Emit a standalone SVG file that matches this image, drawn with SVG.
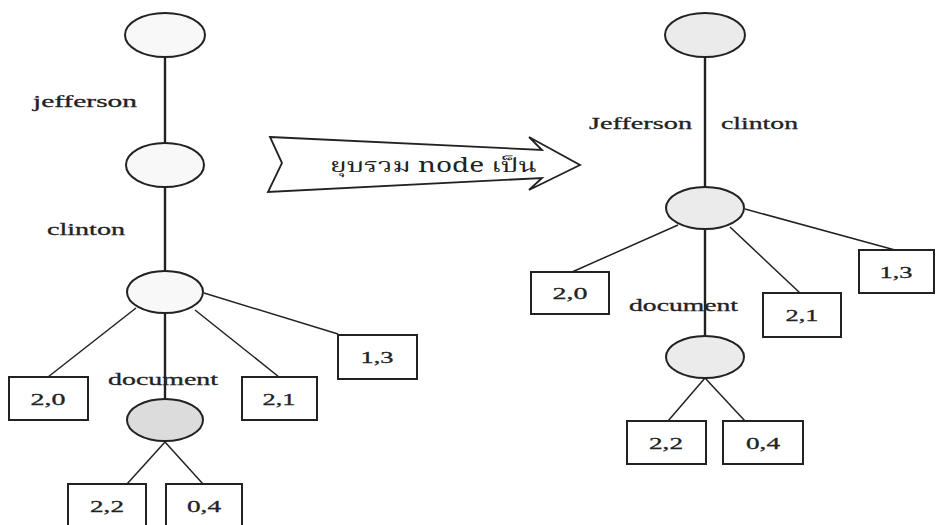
<svg xmlns="http://www.w3.org/2000/svg" width="936" height="525" viewBox="0 0 936 525">
  <style>
    .bg { fill: #ffffff; }
    .edge { stroke: #222; stroke-width: 1.5; fill: none; }
    .trunk { stroke: #222; stroke-width: 2.4; fill: none; }
    .node { stroke: #222; stroke-width: 2; }
    .plain { fill: #f8f8f8; }
    .light { fill: #ebebeb; }
    .shade { fill: #dcdcdc; }
    .leaf { fill: #ffffff; stroke: #222; stroke-width: 2; }
    .lbl { font-family: "Liberation Serif", "DejaVu Serif", serif; font-size: 17px; font-weight: normal; fill: #222; stroke: #222; stroke-width: 0.3; }
    .num { font-family: "Liberation Serif", "DejaVu Serif", serif; font-size: 17px; font-weight: normal; fill: #222; stroke: #222; stroke-width: 0.3; text-anchor: middle; }
    .arrow { fill: #ffffff; stroke: #222; stroke-width: 1.8; stroke-linejoin: miter; }
    .thai { font-family: "Noto Serif Thai", "Noto Sans Thai", "Loma", "Garuda", "Tlwg Typo", "DejaVu Sans", sans-serif; font-size: 19px; fill: #222; }
  </style>
  <rect class="bg" x="0" y="0" width="936" height="525"/>

  <!-- tree connectors -->
  <g id="connectors">
    <!-- left tree -->
    <line class="trunk" x1="165" y1="57" x2="165" y2="143"/>
    <line class="trunk" x1="165" y1="187" x2="165" y2="271"/>
    <line class="trunk" x1="165" y1="313" x2="165" y2="399"/>
    <line class="edge" x1="136" y1="308" x2="48" y2="377"/>
    <line class="edge" x1="195" y1="310" x2="279" y2="377"/>
    <line class="edge" x1="204" y1="293" x2="338" y2="334"/>
    <line class="edge" x1="165" y1="442" x2="127" y2="484"/>
    <line class="edge" x1="165" y1="442" x2="203" y2="484"/>
    <!-- right tree -->
    <line class="trunk" x1="705" y1="57" x2="705" y2="187"/>
    <line class="trunk" x1="705" y1="229" x2="705" y2="336"/>
    <line class="edge" x1="678" y1="225" x2="572" y2="272"/>
    <line class="edge" x1="730" y1="227" x2="800" y2="293"/>
    <line class="edge" x1="745" y1="209" x2="895" y2="250"/>
    <line class="edge" x1="705" y1="378" x2="668" y2="421"/>
    <line class="edge" x1="705" y1="378" x2="745" y2="421"/>
  </g>

  <!-- left tree: before merging -->
  <g id="l-root"><ellipse class="node plain" cx="165" cy="35" rx="40" ry="22"/></g>
  <g id="l-jefferson-label"><text class="lbl" x="33" y="107" textLength="104" lengthAdjust="spacingAndGlyphs">jefferson</text></g>
  <g id="l-jefferson"><ellipse class="node plain" cx="165" cy="165" rx="39" ry="22"/></g>
  <g id="l-clinton-label"><text class="lbl" x="47" y="235" textLength="78" lengthAdjust="spacingAndGlyphs">clinton</text></g>
  <g id="l-clinton"><ellipse class="node plain" cx="165" cy="292" rx="38" ry="21"/></g>
  <g id="l-20"><rect class="leaf" x="9" y="377" width="79" height="43"/><text class="num" x="48" y="405" textLength="35" lengthAdjust="spacingAndGlyphs">2,0</text></g>
  <g id="l-21"><rect class="leaf" x="242" y="377" width="75" height="43"/><text class="num" x="279" y="405" textLength="33" lengthAdjust="spacingAndGlyphs">2,1</text></g>
  <g id="l-13"><rect class="leaf" x="338" y="335" width="79" height="44"/><text class="num" x="377" y="363" textLength="33" lengthAdjust="spacingAndGlyphs">1,3</text></g>
  <g id="l-document-label"><text class="lbl" x="108" y="385" textLength="110" lengthAdjust="spacingAndGlyphs">document</text></g>
  <g id="l-document"><ellipse class="node shade" cx="165" cy="420" rx="38" ry="21"/></g>
  <g id="l-22"><rect class="leaf" x="68" y="484" width="78" height="46"/><text class="num" x="107" y="512" textLength="34" lengthAdjust="spacingAndGlyphs">2,2</text></g>
  <g id="l-04"><rect class="leaf" x="166" y="484" width="76" height="46"/><text class="num" x="204" y="512" textLength="34" lengthAdjust="spacingAndGlyphs">0,4</text></g>

  <!-- merge arrow -->
  <g id="merge-arrow">
    <polygon class="arrow" points="270,137 542,150 529,137 580,165 529,190 542,178 268,192 282,163"/>
    <text class="thai" x="330" y="172" textLength="207" lengthAdjust="spacingAndGlyphs">ยุบรวม node เป็น</text>
  </g>

  <!-- right tree: after merging -->
  <g id="r-root"><ellipse class="node light" cx="705" cy="35" rx="40" ry="22"/></g>
  <g id="r-edge-labels">
    <text class="lbl" x="589" y="129" textLength="103" lengthAdjust="spacingAndGlyphs">Jefferson</text>
    <text class="lbl" x="721" y="129" textLength="77" lengthAdjust="spacingAndGlyphs">clinton</text>
  </g>
  <g id="r-merged"><ellipse class="node light" cx="705" cy="208" rx="39" ry="21"/></g>
  <g id="r-20"><rect class="leaf" x="531" y="272" width="78" height="42"/><text class="num" x="570" y="299" textLength="35" lengthAdjust="spacingAndGlyphs">2,0</text></g>
  <g id="r-21"><rect class="leaf" x="763" y="293" width="78" height="44"/><text class="num" x="802" y="321" textLength="33" lengthAdjust="spacingAndGlyphs">2,1</text></g>
  <g id="r-13"><rect class="leaf" x="859" y="250" width="75" height="43"/><text class="num" x="896" y="278" textLength="33" lengthAdjust="spacingAndGlyphs">1,3</text></g>
  <g id="r-document-label"><text class="lbl" x="629" y="311" textLength="109" lengthAdjust="spacingAndGlyphs">document</text></g>
  <g id="r-document"><ellipse class="node light" cx="705" cy="357" rx="39" ry="21"/></g>
  <g id="r-22"><rect class="leaf" x="627" y="421" width="79" height="43"/><text class="num" x="666" y="449" textLength="34" lengthAdjust="spacingAndGlyphs">2,2</text></g>
  <g id="r-04"><rect class="leaf" x="723" y="421" width="80" height="43"/><text class="num" x="763" y="449" textLength="34" lengthAdjust="spacingAndGlyphs">0,4</text></g>
</svg>
